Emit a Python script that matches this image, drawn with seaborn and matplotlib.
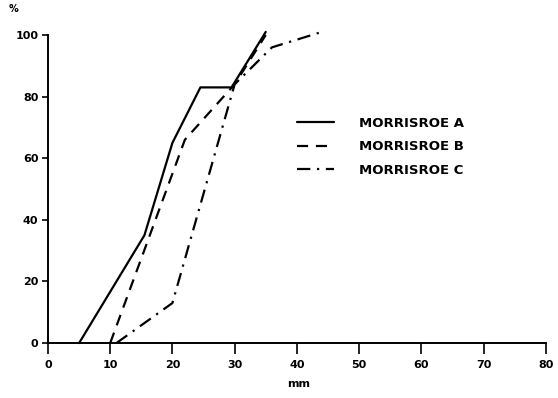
import matplotlib
matplotlib.use("Agg")
import matplotlib.pyplot as plt
import seaborn as sns
import pandas as pd

# Data
a_x = [5, 15.5, 20, 24.5, 29.5, 35]
a_y = [0, 35, 65, 83, 83, 101]
b_x = [10, 22, 30, 35]
b_y = [0, 66, 84, 100]
c_x = [11, 20, 30, 36, 44]
c_y = [0, 13, 84, 96, 101]
names = ["MORRISROE A", "MORRISROE B", "MORRISROE C"]
x_ticks = [0, 10, 20, 30, 40, 50, 60, 70, 80]
y_ticks = [0, 20, 40, 60, 80, 100]

rows = []
for n, xs, ys in zip(names, [a_x, b_x, c_x], [a_y, b_y, c_y]):
    for x, y in zip(xs, ys):
        rows.append({"mm": x, "pct": y, "series": n})
df = pd.DataFrame(rows)

sns.set_style("ticks")
plt.rcParams['font.family'] = ['DejaVu Sans']
plt.rcParams['font.weight'] = 'bold'
plt.rcParams['text.color'] = 'black'
plt.rcParams['xtick.color'] = 'black'
plt.rcParams['ytick.color'] = 'black'

fig = plt.figure(figsize=(5.58, 3.98), dpi=100)
ax = fig.add_axes([0.086, 0.138, 0.892, 0.774])

sns.lineplot(data=df, x="mm", y="pct", hue="series", style="series",
             palette=["black"] * 3,
             dashes={"MORRISROE A": "", "MORRISROE B": (5, 3.5), "MORRISROE C": (6, 3, 1, 3)},
             linewidth=1.6, sort=False, estimator=None, ax=ax, clip_on=False)

ax.set_xlim(0, 80)
ax.set_ylim(0, 100)
ax.set_xticks(x_ticks)
ax.set_yticks(y_ticks)
ax.tick_params(axis='x', direction='out', length=8, width=1.2, labelsize=8, pad=4,
               colors='black', labelcolor='black')
ax.tick_params(axis='y', direction='out', length=4, width=1.2, labelsize=8, pad=3,
               colors='black', labelcolor='black')
for s in ['top', 'right']:
    ax.spines[s].set_visible(False)
for s in ['left', 'bottom']:
    ax.spines[s].set_linewidth(1.4)
    ax.spines[s].set_color('black')
for lab in ax.get_xticklabels() + ax.get_yticklabels():
    lab.set_fontweight('bold')
    lab.set_color('black')

ax.set_xlabel("")
ax.set_ylabel("")
fig.text(0.535, 0.035, "mm", fontsize=8, fontweight='bold', ha='center', va='center', color='black')
fig.text(0.025, 0.978, "%", fontsize=7, fontweight='bold', ha='center', va='center', color='black')

leg = ax.legend(loc='upper left', bbox_to_anchor=(0.5, 0.735), frameon=False,
                fontsize=9.5, handlelength=2.8, handletextpad=1.9,
                labelspacing=0.8, borderpad=0, borderaxespad=0)
for t in leg.get_texts():
    t.set_fontweight('bold')
    t.set_color('black')

fig.savefig("out.png", dpi=100)
